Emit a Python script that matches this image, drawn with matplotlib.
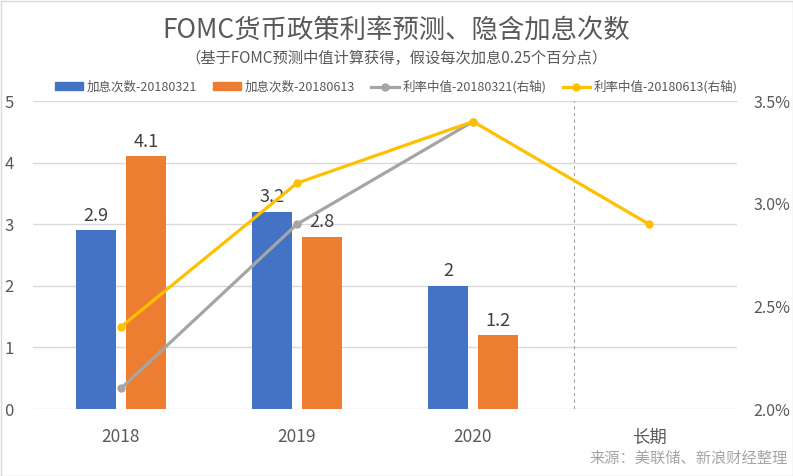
import numpy as np
import matplotlib.pyplot as plt
from matplotlib.patches import Rectangle
from matplotlib.lines import Line2D

plt.rcParams['font.family'] = ['Noto Sans CJK SC', 'DejaVu Sans']

categories = ['2018', '2019', '2020', '长期']
hikes_0321 = [2.9, 3.2, 2]
hikes_0613 = [4.1, 2.8, 1.2]
rate_0321 = [2.1, 2.9, 3.4]
rate_0613 = [2.4, 3.1, 3.4, 2.9]
left_ticks = [0, 1, 2, 3, 4, 5]
right_ticks = [2.0, 2.5, 3.0, 3.5]

blue = '#4472C4'
orange = '#ED7D31'
gray = '#A5A5A5'
yellow = '#FFC000'
txt = '#595959'

fig = plt.figure(figsize=(7.93, 4.76), dpi=100)
ax = fig.add_axes([33/793, 1-409/476, 704/793, 308/476])
ax2 = ax.twinx()

x = np.arange(len(categories))
w = 0.227
off = 0.143
b1 = ax.bar(x[:3] - off, hikes_0321, w, color=blue, zorder=2)
b2 = ax.bar(x[:3] + off, hikes_0613, w, color=orange, zorder=2)
for bars, vals in ((b1, hikes_0321), (b2, hikes_0613)):
    for b, v in zip(bars, vals):
        ax.annotate('%g' % v, (b.get_x() + b.get_width()/2, v), xytext=(0, 4),
                    textcoords='offset points', ha='center', va='bottom',
                    fontsize=13, color='#404040')

ax2.plot(x[:3], rate_0321, color=gray, lw=2.3, marker='o', ms=5, zorder=3)
ax2.plot(x, rate_0613, color=yellow, lw=2.3, marker='o', ms=5, zorder=4)

ax.set_xlim(-0.5, 3.5)
ax.set_ylim(0, 5)
ax2.set_ylim(2.0, 3.5)
ax.set_yticks(left_ticks)
ax2.set_yticks(right_ticks)
ax2.set_yticklabels(['%.1f%%' % t for t in right_ticks])
ax.set_xticks(x)
ax.set_xticklabels(categories)
ax.grid(axis='y', color='#D9D9D9', lw=1, zorder=0)
ax.set_axisbelow(True)
ax.axvline(2.574, color='#A6A6A6', lw=0.8, ls=(0, (3, 3)), zorder=1)

for a in (ax, ax2):
    for s in a.spines.values():
        s.set_visible(False)
ax.tick_params(axis='x', length=0, pad=14, labelsize=12.5, labelcolor=txt)
ax.tick_params(axis='y', length=0, pad=14, labelsize=12, labelcolor=txt)
ax2.tick_params(axis='y', length=0, pad=12, labelsize=11.5, labelcolor=txt)

fig.text(0.5, 1-30/476, 'FOMC货币政策利率预测、隐含加息次数', ha='center', va='center',
         fontsize=19, color=txt)
fig.text(0.5, 1-58/476, '（基于FOMC预测中值计算获得，假设每次加息0.25个百分点）', ha='center',
         va='center', fontsize=11, color=txt)
fig.text(788/793, 1-458/476, '来源：美联储、新浪财经整理', ha='right', va='center',
         fontsize=11, color='#A6A6A6')

handles = [Rectangle((0, 0), 1, 1, color=blue), Rectangle((0, 0), 1, 1, color=orange),
           Line2D([], [], color=gray, lw=2.3, marker='o', ms=5),
           Line2D([], [], color=yellow, lw=2.3, marker='o', ms=5)]
labels = ['加息次数-20180321', '加息次数-20180613', '利率中值-20180321(右轴)', '利率中值-20180613(右轴)']
leg = fig.legend(handles, labels, loc='center', bbox_to_anchor=(0.5, 1-87/476), ncol=4,
                 frameon=False, fontsize=9, handlelength=2.2, handleheight=0.6,
                 columnspacing=1.3, handletextpad=0.3)
for t in leg.get_texts():
    t.set_color(txt)

fig.add_artist(Rectangle((0.5/793, 0.5/476), 1-1/793, 1-1/476, transform=fig.transFigure,
                         fill=False, edgecolor='#D9D9D9', lw=1))

fig.savefig('out.png', dpi=100)
